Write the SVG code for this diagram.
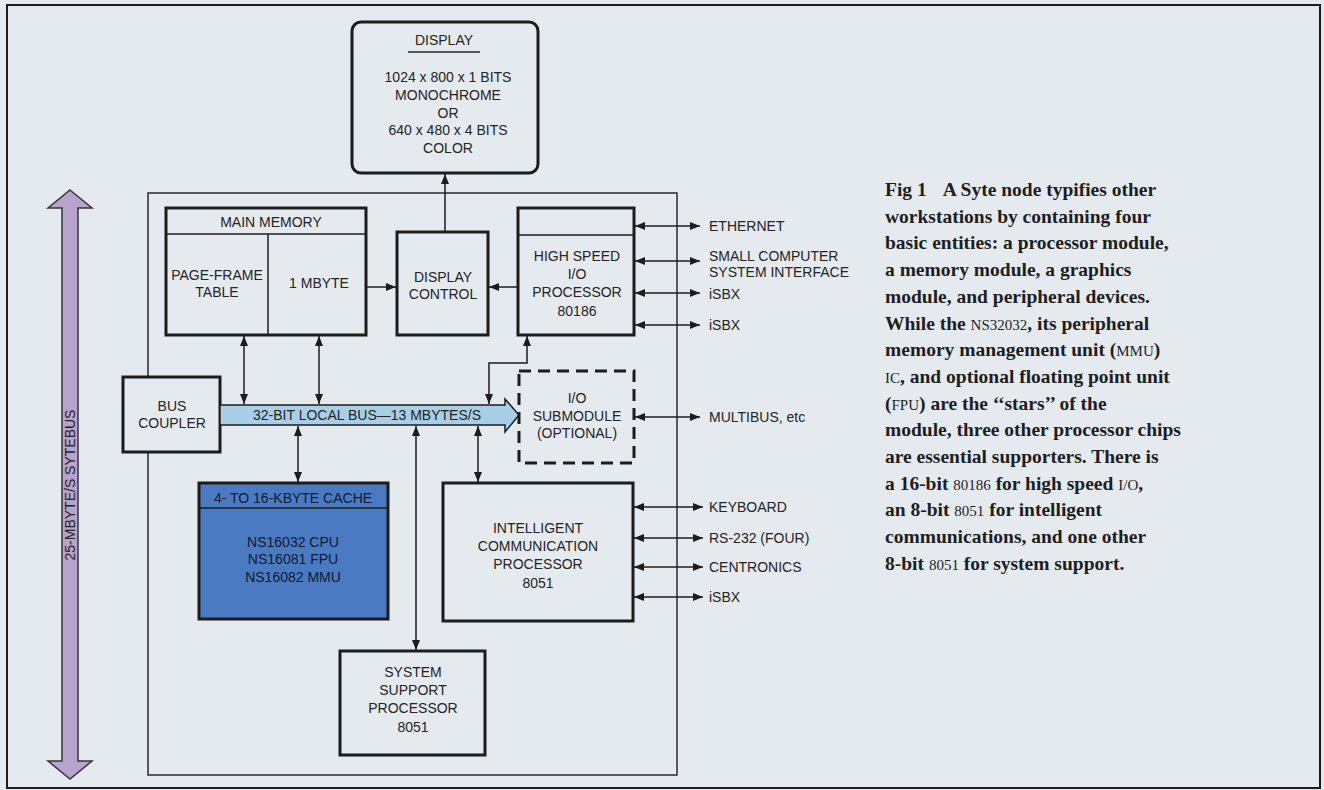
<svg xmlns="http://www.w3.org/2000/svg" width="1324" height="790" viewBox="0 0 1324 790">
<style>
.bg{fill:#e5eaef}
.box{fill:#e5eaef;stroke:#1c1c1c;stroke-width:3}
.thin{fill:none;stroke:#2a2a2a;stroke-width:1.5}
.line{fill:none;stroke:#1c1c1c;stroke-width:1.5}
.t{font-family:"Liberation Sans",Arial,sans-serif;font-size:14px;fill:#242424;text-anchor:middle}
.tl{font-family:"Liberation Sans",Arial,sans-serif;font-size:14px;fill:#242424;text-anchor:start}
.cap{font-family:"Liberation Serif","Times New Roman",serif;font-size:19.5px;font-weight:bold;fill:#1e1e1e}
.sc{font-size:15px}
</style>
<defs>
<marker id="ah" viewBox="0 0 10 8" refX="10" refY="4" markerWidth="10" markerHeight="8" markerUnits="userSpaceOnUse" orient="auto-start-reverse">
<path d="M0,0 L10,4 L0,8 z" fill="#1c1c1c"/>
</marker>
</defs>
<rect class="bg" x="0" y="0" width="1324" height="790"/>
<rect x="7" y="5" width="1313" height="783" fill="none" stroke="#1c1c1c" stroke-width="2"/>

<g id="sytebus">
<polygon points="70,190 92,208 78,208 78,761 92,761 70,779 48,761 62,761 62,208 48,208" fill="#b7a4cc" stroke="#3a3040" stroke-width="1.5"/>
<text class="t" transform="translate(75,485) rotate(-90)">25-MBYTE/S SYTEBUS</text>
</g>

<g id="container"><rect class="thin" x="148" y="193" width="529" height="582"/></g>

<g id="connectors">
<line class="line" x1="445" y1="232" x2="445" y2="174" marker-end="url(#ah)"/>
<line class="line" x1="366" y1="287" x2="396" y2="287" marker-end="url(#ah)"/>
<line class="line" x1="518" y1="287" x2="489" y2="287" marker-end="url(#ah)"/>
<line class="line" x1="244" y1="336" x2="244" y2="404" marker-start="url(#ah)" marker-end="url(#ah)"/>
<line class="line" x1="319" y1="336" x2="319" y2="404" marker-start="url(#ah)" marker-end="url(#ah)"/>
<path class="line" d="M489,404 V363 H527 V336" marker-start="url(#ah)" marker-end="url(#ah)"/>
<line class="line" x1="298" y1="426" x2="298" y2="482" marker-start="url(#ah)" marker-end="url(#ah)"/>
<line class="line" x1="416" y1="426" x2="416" y2="650" marker-start="url(#ah)" marker-end="url(#ah)"/>
<line class="line" x1="478" y1="426" x2="478" y2="482" marker-start="url(#ah)" marker-end="url(#ah)"/>
<line class="line" x1="635" y1="417" x2="700" y2="417" marker-start="url(#ah)" marker-end="url(#ah)"/>
<line class="line" x1="635" y1="226" x2="700" y2="226" marker-start="url(#ah)" marker-end="url(#ah)"/>
<line class="line" x1="635" y1="261" x2="700" y2="261" marker-start="url(#ah)" marker-end="url(#ah)"/>
<line class="line" x1="635" y1="293" x2="700" y2="293" marker-start="url(#ah)" marker-end="url(#ah)"/>
<line class="line" x1="635" y1="325" x2="700" y2="325" marker-start="url(#ah)" marker-end="url(#ah)"/>
<line class="line" x1="634" y1="507" x2="703" y2="507" marker-start="url(#ah)" marker-end="url(#ah)"/>
<line class="line" x1="634" y1="538" x2="703" y2="538" marker-start="url(#ah)" marker-end="url(#ah)"/>
<line class="line" x1="634" y1="567" x2="703" y2="567" marker-start="url(#ah)" marker-end="url(#ah)"/>
<line class="line" x1="634" y1="597" x2="703" y2="597" marker-start="url(#ah)" marker-end="url(#ah)"/>
</g>

<g id="display">
<rect class="box" x="352" y="22" width="186" height="151" rx="9"/>
<text class="t" x="444" y="45">DISPLAY</text>
<line x1="408" y1="52" x2="480" y2="52" stroke="#2a2a2a" stroke-width="1.5"/>
<text class="t" x="448" y="82">1024 x 800 x 1 BITS</text>
<text class="t" x="448" y="100">MONOCHROME</text>
<text class="t" x="448" y="118">OR</text>
<text class="t" x="448" y="135">640 x 480 x 4 BITS</text>
<text class="t" x="448" y="153">COLOR</text>
</g>

<g id="main-memory">
<rect class="box" x="166" y="208" width="200" height="127"/>
<line x1="166" y1="234" x2="366" y2="234" stroke="#1c1c1c" stroke-width="1.5"/>
<line x1="268" y1="234" x2="268" y2="335" stroke="#1c1c1c" stroke-width="1.5"/>
<text class="t" x="271" y="227">MAIN MEMORY</text>
<text class="t" x="217" y="280">PAGE-FRAME</text>
<text class="t" x="217" y="297">TABLE</text>
<text class="t" x="319" y="288">1 MBYTE</text>
</g>

<g id="display-control">
<rect class="box" x="397" y="232" width="91" height="103"/>
<text class="t" x="443" y="282">DISPLAY</text>
<text class="t" x="443" y="299">CONTROL</text>
</g>

<g id="hsio">
<rect class="box" x="518" y="208" width="116" height="127"/>
<line x1="518" y1="235" x2="634" y2="235" stroke="#1c1c1c" stroke-width="1.5"/>
<text class="t" x="577" y="261">HIGH SPEED</text>
<text class="t" x="577" y="279">I/O</text>
<text class="t" x="577" y="297">PROCESSOR</text>
<text class="t" x="577" y="316">80186</text>
</g>

<g id="hsio-labels">
<text class="tl" x="709" y="231">ETHERNET</text>
<text class="tl" x="709" y="261">SMALL COMPUTER</text>
<text class="tl" x="709" y="277">SYSTEM INTERFACE</text>
<text class="tl" x="709" y="299">iSBX</text>
<text class="tl" x="709" y="330">iSBX</text>
</g>

<g id="bus-coupler">
<rect class="box" x="123" y="377" width="97" height="75"/>
<text class="t" x="172" y="411">BUS</text>
<text class="t" x="172" y="428">COUPLER</text>
</g>

<g id="local-bus">
<polygon points="220,405 505,405 505,399 519,415 505,432 505,425 220,425" fill="#a9cfe8" stroke="#1c1c1c" stroke-width="1.5"/>
<text class="t" x="367" y="420">32-BIT LOCAL BUS—13 MBYTES/S</text>
</g>

<g id="io-submodule">
<rect x="519" y="371" width="115" height="92" fill="#e5eaef" stroke="#1c1c1c" stroke-width="3" stroke-dasharray="12,7"/>
<text class="t" x="577" y="403">I/O</text>
<text class="t" x="577" y="421">SUBMODULE</text>
<text class="t" x="577" y="438">(OPTIONAL)</text>
<text class="tl" x="709" y="422">MULTIBUS, etc</text>
</g>

<g id="cache">
<rect x="199" y="483" width="189" height="136" fill="#4a7bc2" stroke="#1c1c1c" stroke-width="3"/>
<line x1="199" y1="508" x2="388" y2="508" stroke="#1c1c1c" stroke-width="1.5"/>
<text class="t" x="293" y="503" style="fill:#0d1a33">4- TO 16-KBYTE CACHE</text>
<text class="t" x="293" y="547" style="fill:#0d1a33">NS16032 CPU</text>
<text class="t" x="293" y="564" style="fill:#0d1a33">NS16081 FPU</text>
<text class="t" x="293" y="582" style="fill:#0d1a33">NS16082 MMU</text>
</g>

<g id="icp">
<rect class="box" x="443" y="483" width="190" height="138"/>
<text class="t" x="538" y="533">INTELLIGENT</text>
<text class="t" x="538" y="551">COMMUNICATION</text>
<text class="t" x="538" y="569">PROCESSOR</text>
<text class="t" x="538" y="588">8051</text>
</g>

<g id="icp-labels">
<text class="tl" x="709" y="512">KEYBOARD</text>
<text class="tl" x="709" y="543">RS-232 (FOUR)</text>
<text class="tl" x="709" y="572">CENTRONICS</text>
<text class="tl" x="709" y="602">iSBX</text>
</g>

<g id="ssp">
<rect class="box" x="340" y="651" width="145" height="104"/>
<text class="t" x="413" y="677">SYSTEM</text>
<text class="t" x="413" y="695">SUPPORT</text>
<text class="t" x="413" y="713">PROCESSOR</text>
<text class="t" x="413" y="732">8051</text>
</g>

<g id="caption">
<text class="cap" x="885" y="196">Fig 1<tspan dx="16">A Syte node typifies other</tspan></text>
<text class="cap" x="885" y="222.7">workstations by containing four</text>
<text class="cap" x="885" y="249.4">basic entities: a processor module,</text>
<text class="cap" x="885" y="276.1">a memory module, a graphics</text>
<text class="cap" x="885" y="302.8">module, and peripheral devices.</text>
<text class="cap" x="885" y="329.5">While the <tspan class="sc" font-weight="normal">NS32032</tspan>, its peripheral</text>
<text class="cap" x="885" y="356.2">memory management unit (<tspan class="sc" font-weight="normal">MMU</tspan>)</text>
<text class="cap" x="885" y="382.9"><tspan class="sc" font-weight="normal">IC</tspan>, and optional floating point unit</text>
<text class="cap" x="885" y="409.6">(<tspan class="sc" font-weight="normal">FPU</tspan>) are the ‘‘stars’’ of the</text>
<text class="cap" x="885" y="436.3">module, three other processor chips</text>
<text class="cap" x="885" y="463">are essential supporters. There is</text>
<text class="cap" x="885" y="489.7">a 16-bit <tspan class="sc" font-weight="normal">80186</tspan> for high speed <tspan class="sc" font-weight="normal">I/O</tspan>,</text>
<text class="cap" x="885" y="516.4">an 8-bit <tspan class="sc" font-weight="normal">8051</tspan> for intelligent</text>
<text class="cap" x="885" y="543.1">communications, and one other</text>
<text class="cap" x="885" y="569.8">8-bit <tspan class="sc" font-weight="normal">8051</tspan> for system support.</text>
</g>
</svg>
